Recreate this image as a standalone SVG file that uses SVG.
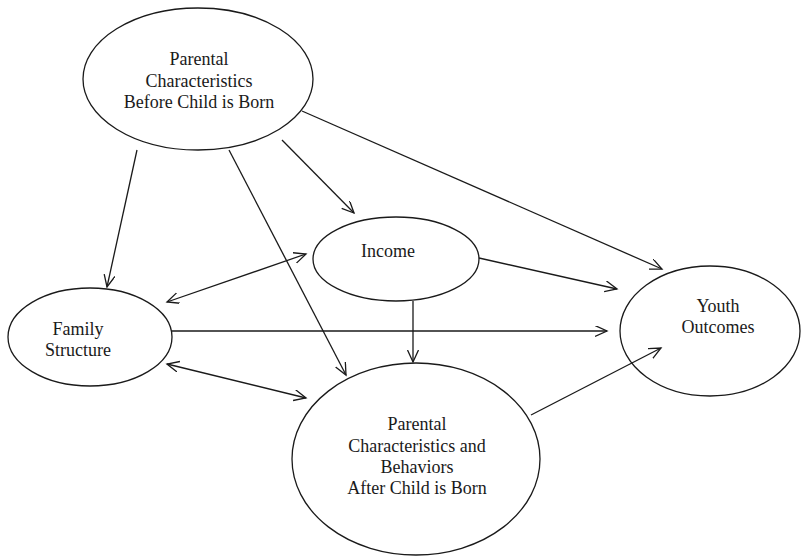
<svg xmlns="http://www.w3.org/2000/svg" width="802" height="559" viewBox="0 0 802 559">
<defs>
<marker id="ah" markerUnits="userSpaceOnUse" markerWidth="14" markerHeight="12" refX="12" refY="5.5" orient="auto-start-reverse" viewBox="0 0 14 12">
<path d="M0,0 L12,5.5 L0,11" fill="none" stroke="#1a1a1a" stroke-width="1.3"/>
</marker>
<style>
.n{fill:#fff;stroke:#1a1a1a;stroke-width:1.3}
.t{font-family:"Liberation Serif","Times New Roman",serif;font-size:18px;fill:#1a1a1a;text-anchor:middle}
.c line{stroke:#1a1a1a;stroke-width:1.3;marker-end:url(#ah)}
.c line.b{marker-start:url(#ah)}
</style>
</defs>
<rect width="802" height="559" fill="#fff"/>
<g id="before">
<ellipse class="n" cx="198" cy="79" rx="115" ry="71"/>
<text class="t" x="199" y="65">Parental</text>
<text class="t" x="199" y="87">Characteristics</text>
<text class="t" x="199" y="108">Before Child is Born</text>
</g>
<g id="income">
<ellipse class="n" cx="396" cy="259" rx="83" ry="42"/>
<text class="t" x="388" y="257">Income</text>
</g>
<g id="family">
<ellipse class="n" cx="90" cy="337" rx="82" ry="49"/>
<text class="t" x="78" y="335">Family</text>
<text class="t" x="78" y="356">Structure</text>
</g>
<g id="youth">
<ellipse class="n" cx="710" cy="331" rx="90" ry="65"/>
<text class="t" x="718" y="312">Youth</text>
<text class="t" x="718" y="333">Outcomes</text>
</g>
<g id="after">
<ellipse class="n" cx="416" cy="459" rx="124" ry="96"/>
<text class="t" x="417" y="430">Parental</text>
<text class="t" x="417" y="452">Characteristics and</text>
<text class="t" x="417" y="473">Behaviors</text>
<text class="t" x="417" y="494">After Child is Born</text>
</g>
<g class="c" id="connectors">
<line x1="137" y1="150" x2="107" y2="287"/>
<line x1="229" y1="150" x2="346" y2="375"/>
<line x1="282" y1="140" x2="354" y2="213"/>
<line x1="302" y1="111" x2="662" y2="269"/>
<line class="b" x1="167" y1="302" x2="306" y2="254"/>
<line x1="172" y1="331" x2="607" y2="331"/>
<line class="b" x1="167" y1="364" x2="306" y2="398"/>
<line x1="413" y1="301" x2="413" y2="362"/>
<line x1="479" y1="258" x2="617" y2="289"/>
<line x1="531" y1="415" x2="661" y2="348"/>
</g>
</svg>
